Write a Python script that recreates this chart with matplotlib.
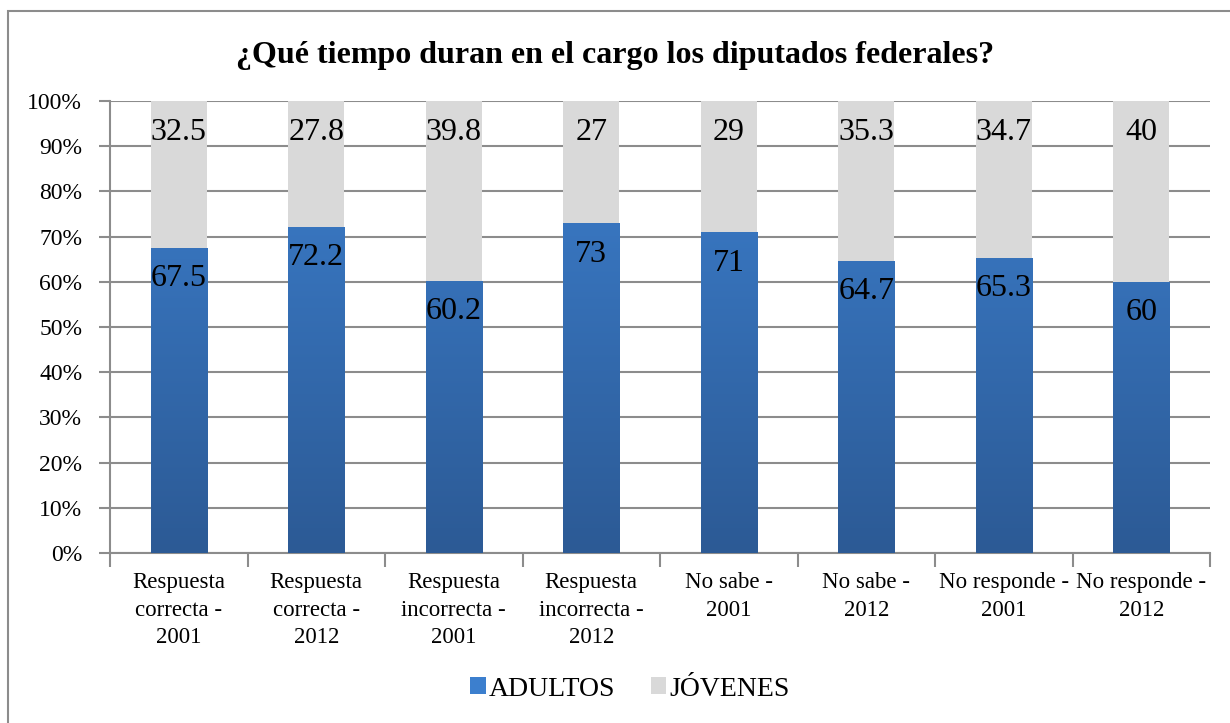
import numpy as np
import matplotlib
matplotlib.use("Agg")
import matplotlib.pyplot as plt
from matplotlib.colors import LinearSegmentedColormap
from matplotlib.patches import Rectangle

plt.rcParams['font.family'] = ['Liberation Serif', 'DejaVu Serif']

categories = ["Respuesta\ncorrecta -\n2001", "Respuesta\ncorrecta -\n2012",
              "Respuesta\nincorrecta -\n2001", "Respuesta\nincorrecta -\n2012",
              "No sabe -\n2001", "No sabe -\n2012",
              "No responde -\n2001", "No responde -\n2012"]
adultos = [67.5, 72.2, 60.2, 73, 71, 64.7, 65.3, 60]
jovenes = [32.5, 27.8, 39.8, 27, 29, 35.3, 34.7, 40]

blue_top = "#3c7fce"
blue_bottom = "#2c5a95"
gray = "#d9d9d9"
grid_col = "#8c8c8c"

fig = plt.figure(figsize=(12.3, 7.23), dpi=100)
ax = fig.add_axes([110 / 1230, 1 - 553 / 723, 1100 / 1230, 452 / 723])

x = np.arange(len(categories))
w = 0.41
bars_a = ax.bar(x, adultos, w, color=blue_top, label="ADULTOS", zorder=3)
bars_j = ax.bar(x, jovenes, w, bottom=adultos, color=gray, label="JÓVENES", zorder=3)

# vertical gradient on the blue bars
cmap = LinearSegmentedColormap.from_list("bl", [blue_bottom, blue_top])
grad = np.linspace(0, 1, 256).reshape(-1, 1)
for b in bars_a:
    im = ax.imshow(grad, cmap=cmap, origin="lower", aspect="auto",
                   extent=(b.get_x(), b.get_x() + b.get_width(), 0, 100), zorder=3.5)
    im.set_clip_path(b)

for i in range(len(categories)):
    ax.annotate(f"{adultos[i]:g}", (x[i], adultos[i]), xytext=(0, -31),
                textcoords="offset pixels", ha="center", va="center", fontsize=23, zorder=5)
    ax.annotate(f"{jovenes[i]:g}", (x[i], 100), xytext=(0, -32),
                textcoords="offset pixels", ha="center", va="center", fontsize=23, zorder=5)

ax.set_xlim(-0.5, len(categories) - 0.5)
ax.set_ylim(0, 100)
ax.set_yticks(np.arange(0, 101, 10))
ax.set_yticklabels([f"{v}%" for v in range(0, 101, 10)], fontsize=17)
ax.set_xticks(x)
ax.set_xticklabels(categories, fontsize=16.5, linespacing=1.38)
ax.set_xticks(np.arange(-0.5, len(categories)), minor=True)
ax.tick_params(axis="x", which="major", length=0, pad=14)
ax.tick_params(axis="x", which="minor", length=10, color=grid_col, width=1.5)
ax.tick_params(axis="y", length=8, color=grid_col, width=1.5, pad=12)
ax.grid(axis="y", color=grid_col, linewidth=1.5, zorder=0)
for s in ["top", "right"]:
    ax.spines[s].set_visible(False)
for s in ["left", "bottom"]:
    ax.spines[s].set_color(grid_col)
    ax.spines[s].set_linewidth(1.5)

fig.text(0.5, 1 - 56 / 723, "¿Qué tiempo duran en el cargo los diputados federales?",
         ha="center", va="center", fontsize=23, fontweight="bold")

fig.legend(handles=[bars_a, bars_j], loc="center", bbox_to_anchor=(630 / 1230, 1 - 689 / 723),
           ncol=2, frameon=False, fontsize=20, handlelength=0.55, handleheight=0.55,
           handletextpad=0.1, columnspacing=1.3)

fig.patches.append(Rectangle((8 / 1230, -0.01), 1.02, 1 - 11 / 723 + 0.01,
                             transform=fig.transFigure, fill=False,
                             edgecolor="#8c8c8c", linewidth=1.5))

fig.savefig("out.png", dpi=100)
